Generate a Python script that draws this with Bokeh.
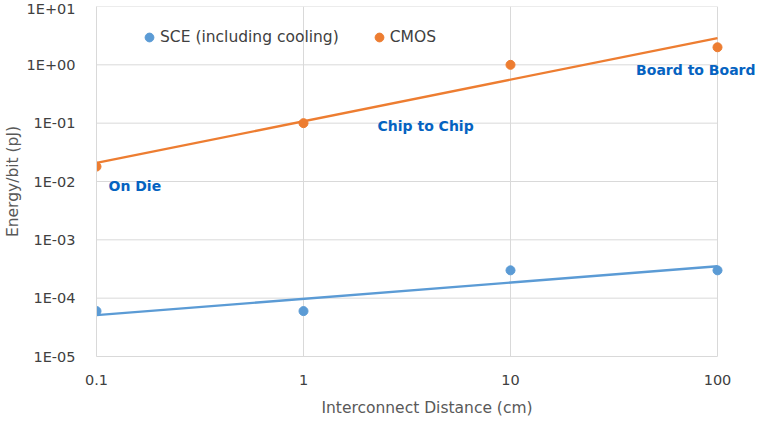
import numpy as np
from bokeh.plotting import figure
from bokeh.models import (FixedTicker, CustomJSTickFormatter, Legend, LegendItem,
                          ColumnDataSource, Range1d)
from bokeh.embed import file_html
from bokeh.resources import INLINE
from bokeh.core.properties import value

# ---------------- data ----------------
distance_cm = [0.1, 1, 10, 100]
sce_energy = [6e-5, 6e-5, 3e-4, 3e-4]
cmos_energy = [0.018, 0.1, 1.0, 2.0]

annot_texts = ["On Die", "Chip to Chip", "Board to Board"]
annot_x = [0.1, 1, 100]
annot_y = [0.018, 0.1, 2.0]

x_ticks = [0.1, 1, 10, 100]
x_tick_labels = ["0.1", "1", "10", "100"]
y_ticks = [1e-5, 1e-4, 1e-3, 1e-2, 1e-1, 1e0, 1e1]
y_tick_labels = ["1E-05", "1E-04", "1E-03", "1E-02", "1E-01", "1E+00", "1E+01"]

series_names = ["SCE (including cooling)", "CMOS"]

# ---------------- styles / layout ----------------
FONT = "DejaVu Sans"
BLUE = "#5B9BD5"
ORANGE = "#ED7D31"
GRID = "#D9D9D9"
LABEL_BLUE = "#0563C1"
LEFT = 88
FRAME_W, FRAME_H = 661, 350
DECADE_PX = 207          # pixel width of one x decade
X_RIGHT = x_ticks[-1] * 10 ** ((FRAME_W - DECADE_PX * 3) / DECADE_PX)  # room for the last label


def power_fit(xs, ys):
    lx, ly = np.log10(xs), np.log10(ys)
    b, a = np.polyfit(lx, ly, 1)
    x_end = np.array([min(xs), max(xs)])
    return x_end, 10 ** (a + b * np.log10(x_end))


p = figure(frame_width=FRAME_W, frame_height=FRAME_H,
           x_axis_type="log", y_axis_type="log",
           x_range=Range1d(x_ticks[0], X_RIGHT), y_range=Range1d(y_ticks[0], y_ticks[-1]),
           output_backend="svg", toolbar_location=None,
           min_border_left=LEFT, min_border_right=0, min_border_top=6,
           min_border_bottom=46)

p.background_fill_color = "white"
p.border_fill_color = "white"
p.outline_line_color = None
p.xgrid.visible = False
p.ygrid.visible = False

# grid lines limited to the plotted area
gx = [[t, t] for t in x_ticks] + [[x_ticks[0], x_ticks[-1]] for _ in y_ticks]
gy = [[y_ticks[0], y_ticks[-1]] for _ in x_ticks] + [[t, t] for t in y_ticks]
p.multi_line(gx, gy, line_color=GRID, line_width=1)

# trendlines
sx, sy = power_fit(distance_cm, sce_energy)
cx, cy = power_fit(distance_cm, cmos_energy)
p.line(sx, sy, line_color=BLUE, line_width=2.3)
p.line(cx, cy, line_color=ORANGE, line_width=2.3)

# points
r_sce = p.scatter(distance_cm, sce_energy, size=9, fill_color=BLUE, line_color=BLUE)
r_cmos = p.scatter(distance_cm, cmos_energy, size=9, fill_color=ORANGE, line_color=ORANGE)

# annotations
src = ColumnDataSource(dict(x=annot_x, y=annot_y, t=annot_texts,
                            xo=[12, 74, 38], yo=[19, 3, 23],
                            al=["left", "left", "right"]))
p.text(x="x", y="y", text="t", source=src, x_offset="xo", y_offset="yo",
       text_align="al", text_baseline="middle",
       text_font=value(FONT), text_font_size="14px", text_font_style="bold",
       text_color=LABEL_BLUE)

# axes
for ax in (p.xaxis[0], p.yaxis[0]):
    ax.axis_line_color = GRID
    ax.major_tick_line_color = None
    ax.minor_tick_line_color = None
    ax.major_label_text_font = FONT
    ax.major_label_text_font_size = "14.5px"
    ax.major_label_text_color = "#404040"
    ax.axis_label_text_font = FONT
    ax.axis_label_text_font_size = "15.5px"
    ax.axis_label_text_font_style = "normal"
    ax.axis_label_text_color = "#595959"

p.xaxis.bounds = (x_ticks[0], x_ticks[-1])
p.xaxis.ticker = FixedTicker(ticks=x_ticks)
p.yaxis.ticker = FixedTicker(ticks=y_ticks)
fmt_code = """
let best = 0, bd = Infinity;
for (let i = 0; i < tvals.length; i++) {
  const d = Math.abs(Math.log10(tick) - Math.log10(tvals[i]));
  if (d < bd) { bd = d; best = i; }
}
return labels[best];
"""
p.xaxis.formatter = CustomJSTickFormatter(args=dict(tvals=x_ticks, labels=x_tick_labels), code=fmt_code)
p.yaxis.formatter = CustomJSTickFormatter(args=dict(tvals=y_ticks, labels=y_tick_labels), code=fmt_code)
p.xaxis.major_label_standoff = 12
p.yaxis.major_label_standoff = 15
p.xaxis.axis_label = "Interconnect Distance (cm)"
p.yaxis.axis_label = "Energy/bit (pJ)"
p.xaxis.axis_label_standoff = 11
p.yaxis.axis_label_standoff = 2

legend = Legend(items=[LegendItem(label=series_names[0], renderers=[r_sce]),
                       LegendItem(label=series_names[1], renderers=[r_cmos])],
                orientation="horizontal", location=(42, FRAME_H - 42),
                glyph_width=22, glyph_height=22, label_standoff=0, spacing=29,
                padding=0, margin=0, border_line_color=None,
                background_fill_alpha=0,
                label_text_font=FONT, label_text_font_size="15.5px",
                label_text_color="#404040")
p.add_layout(legend, "center")

open("out.html", "w").write(file_html(p, INLINE))
